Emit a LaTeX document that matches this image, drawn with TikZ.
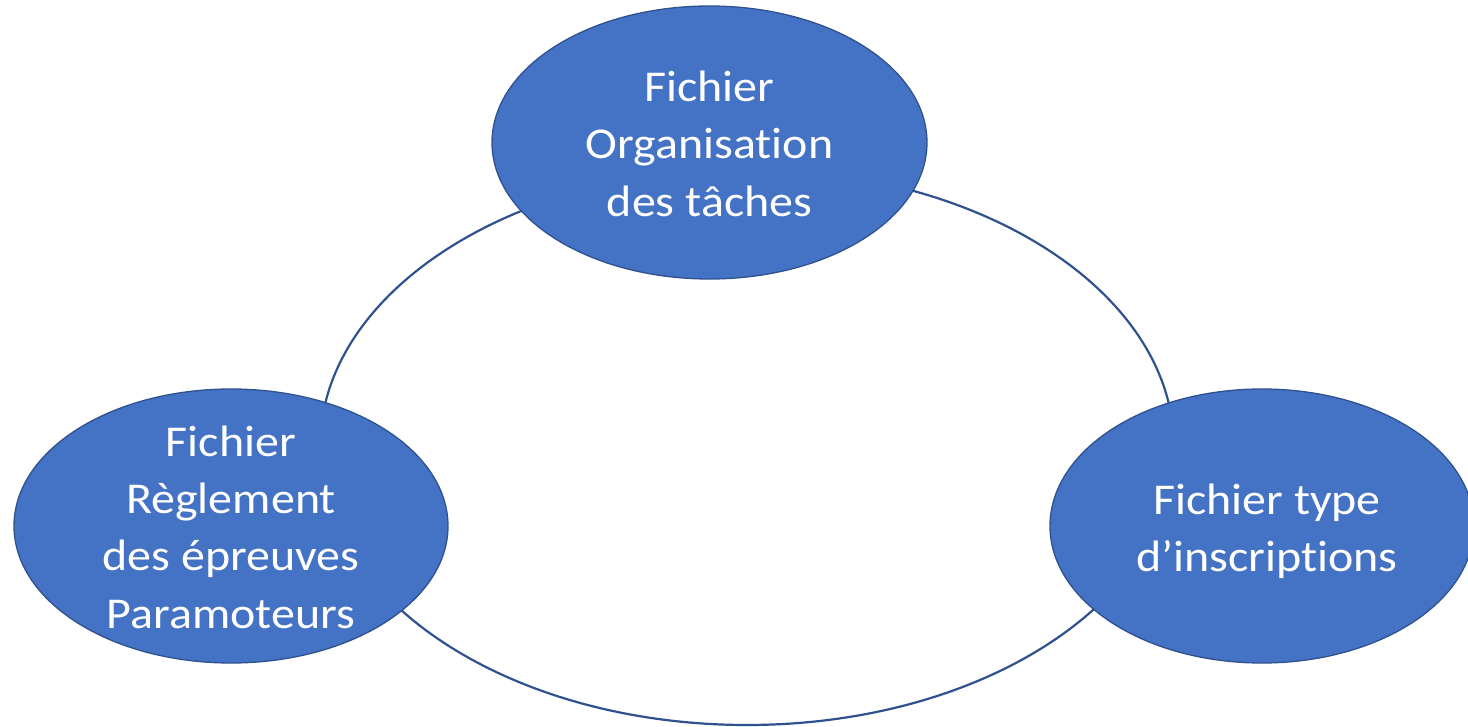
\documentclass[tikz,border=0pt]{standalone}
\usepackage{fontspec}
\setmainfont{Carlito}[FakeStretch=1.09, RawFeature=-liga]
\usetikzlibrary{shapes.geometric}
\definecolor{bfill}{HTML}{4472C4}
\definecolor{bline}{HTML}{2F528F}
\tikzset{
  bubble/.style={ellipse, fill=bfill, draw=bline, line width=1.3pt, inner sep=0pt},
  txt/.style={text=white, align=center, font=\fontsize{44}{57.4}\selectfont, inner sep=0pt},
  ring/.style={ellipse, draw=bline, line width=2.2pt, inner sep=0pt, minimum width=854pt, minimum height=556pt}
}
\begin{document}
\begin{tikzpicture}[x=1pt,y=-1pt]
\clip (0,0) rectangle (1468,727);
\fill[white] (0,0) rectangle (1468,727);
\node[ring] (cycle) at (747,447) {};
\node[bubble, minimum width=435pt, minimum height=273pt] (top) at (709.5,142.5) {};
\node[bubble, minimum width=434pt, minimum height=274pt] (left) at (231,526) {};
\node[bubble, minimum width=424pt, minimum height=274pt] (right) at (1262,526) {};
\node[txt] (ttop) at ([yshift=-1pt]top.center) {Fichier\\Organisation\\des tâches};
\node[txt] (tleft) at ([yshift=-1pt]left.center) {Fichier\\Règlement\\des épreuves\\Paramoteurs};
\node[txt] (tright) at ([xshift=5pt,yshift=-5pt]right.center) {Fichier type\\d’inscriptions};
\end{tikzpicture}
\end{document}
